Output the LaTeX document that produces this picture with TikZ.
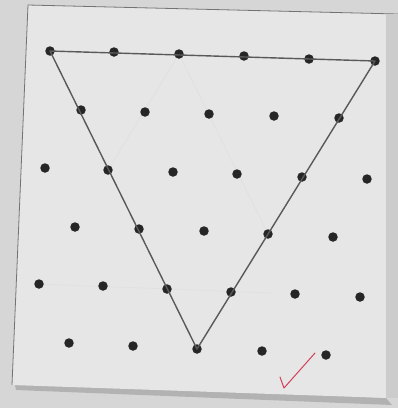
\documentclass[tikz,border=0pt]{standalone}
\begin{document}
\begin{tikzpicture}[x=1pt,y=-1pt,
  dot/.style={circle,fill=black!85,inner sep=0pt,minimum size=9.5pt},
  edge/.style={draw=black!65,line width=1.4pt},
  faint/.style={draw=black!12,line width=0.7pt}]
\definecolor{bg}{HTML}{D6D6D6}
\definecolor{paper}{HTML}{E6E6E6}
\definecolor{tick}{HTML}{D0405A}
\useasboundingbox (0,0) rectangle (398,408);
\fill[bg] (0,0) rectangle (398,408);
% paper with shadow
\fill[black!30] (14,380) -- (386,398) -- (392,405) -- (16,390) -- cycle;
\fill[paper] (28,5) -- (398,14) -- (398,380) -- (388,398) -- (12,385) -- cycle;
\draw[black!55,line width=0.8pt] (12,385) -- (28,5) -- (398,14);
\fill[black!20] (386,14) rectangle (398,398);
% grid positions
\foreach \n/\x/\y in {11/50/51,12/114/52,13/179/54,14/244/56,15/309/59,16/375/61,
  21/81/110,22/145/112,23/209/114,24/274/116,25/339/118,
  31/45/168,32/108/170,33/173/172,34/237/174,35/302/177,36/367/179,
  41/75/227,42/139/229,43/204/231,44/268/234,45/333/237,
  51/39/284,52/103/286,53/167/289,54/231/292,55/295/294,56/360/297,
  61/69/343,62/133/346,63/197/349,64/262/351,65/326/355}
  \coordinate (p\n) at (\x,\y);
\coordinate (f1) at (272,293);
% faint erased lines
\draw[faint] (p13) -- (p32);
\draw[faint] (p13) -- (p44);
\draw[faint] (p51) -- (f1);
% dots
\foreach \n in {11,12,13,14,15,16,21,22,23,24,25,31,32,33,34,35,36,
  41,42,43,44,45,51,52,53,54,55,56,61,62,63,64,65}
  \node[dot] (d\n) at (p\n) {};
% triangle
\draw[edge,line join=round] (d11.center) -- (d16.center) -- (d63.center) -- cycle;
% check mark
\coordinate (c1) at (280,377);
\coordinate (c2) at (284,388);
\coordinate (c3) at (315,353);
\draw[tick,line width=1pt,line cap=round,line join=round] (c1) -- (c2) -- (c3);
\end{tikzpicture}
\end{document}
